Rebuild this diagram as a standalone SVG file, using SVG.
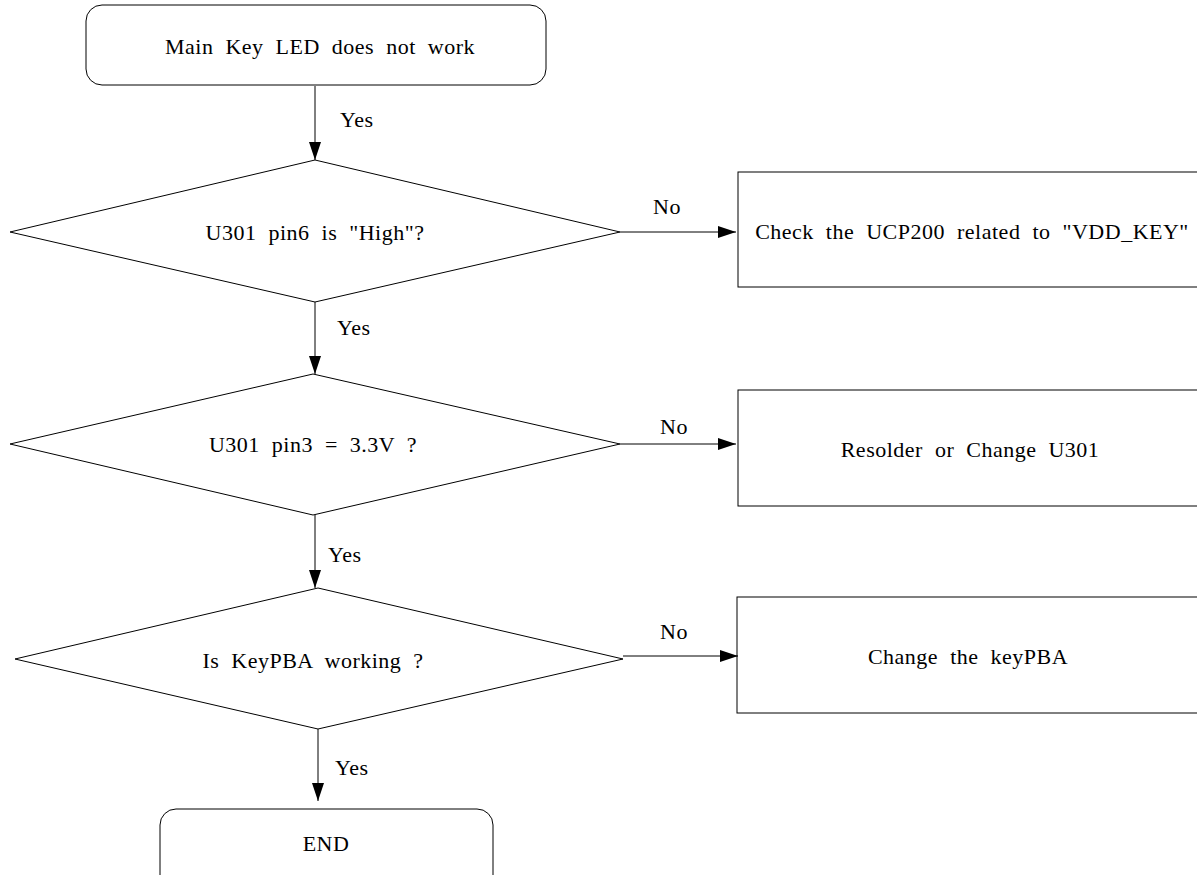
<svg xmlns="http://www.w3.org/2000/svg" width="1197" height="875" viewBox="0 0 1197 875">
<style>
.s{fill:#fff;stroke:#000;stroke-width:1}
.t{font-family:"Liberation Serif",serif;font-size:22px;fill:#000;letter-spacing:0.5px;word-spacing:6px}
.c{stroke:#000;stroke-width:1;fill:none}
</style>
<defs>
<marker id="ah" viewBox="0 0 18 12" refX="18" refY="6" markerWidth="18" markerHeight="12" markerUnits="userSpaceOnUse" orient="auto">
<path d="M0,0 L18,6 L0,12 Z" fill="#000"/>
</marker>
</defs>
<rect width="1197" height="875" fill="#fff"/>
<g id="start"><rect class="s" x="86" y="5" width="460" height="80" rx="16"/><text class="t" x="320" y="54" text-anchor="middle">Main Key LED does not work</text></g>
<g id="d1"><polygon class="s" points="315,160 620,232 315,302 10,232"/><text class="t" x="315" y="240" text-anchor="middle">U301 pin6 is "High"?</text></g>
<g id="b1"><rect class="s" x="738" y="172" width="465" height="115"/><text class="t" x="972" y="239" text-anchor="middle">Check the UCP200 related to "VDD_KEY"</text></g>
<g id="d2"><polygon class="s" points="313,374 620,444 313,515 10,444"/><text class="t" x="313" y="452" text-anchor="middle">U301 pin3 = 3.3V ?</text></g>
<g id="b2"><rect class="s" x="738" y="390" width="465" height="116"/><text class="t" x="970" y="457" text-anchor="middle">Resolder or Change U301</text></g>
<g id="d3"><polygon class="s" points="318,588 623,659 318,729 15,659"/><text class="t" x="313" y="668" text-anchor="middle">Is KeyPBA working ?</text></g>
<g id="b3"><rect class="s" x="737" y="597" width="465" height="116"/><text class="t" x="968" y="664" text-anchor="middle">Change the keyPBA</text></g>
<g id="end"><rect class="s" x="160" y="809" width="333" height="90" rx="16"/><text class="t" x="326" y="851" text-anchor="middle">END</text></g>
<g id="connectors">
<line class="c" x1="315" y1="86" x2="315" y2="160" marker-end="url(#ah)"/>
<line class="c" x1="315" y1="302" x2="315" y2="374" marker-end="url(#ah)"/>
<line class="c" x1="315" y1="515" x2="315" y2="588" marker-end="url(#ah)"/>
<line class="c" x1="318" y1="729" x2="318" y2="801" marker-end="url(#ah)"/>
<line class="c" x1="620" y1="232" x2="736" y2="232" marker-end="url(#ah)"/>
<line class="c" x1="620" y1="444" x2="736" y2="444" marker-end="url(#ah)"/>
<line class="c" x1="623" y1="656" x2="738" y2="656" marker-end="url(#ah)"/>
<text class="t" x="340" y="127">Yes</text>
<text class="t" x="337" y="335">Yes</text>
<text class="t" x="328" y="562">Yes</text>
<text class="t" x="335" y="775">Yes</text>
<text class="t" x="653" y="214">No</text>
<text class="t" x="660" y="434">No</text>
<text class="t" x="660" y="639">No</text>
</g>
</svg>
